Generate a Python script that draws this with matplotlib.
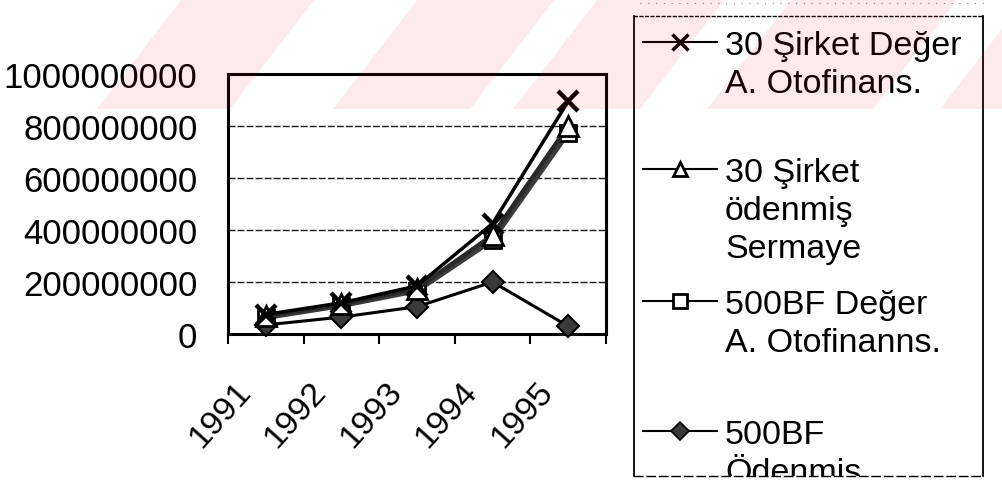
import numpy as np
import matplotlib
matplotlib.use("Agg")
import matplotlib.pyplot as plt
from matplotlib.patches import Polygon
from matplotlib.lines import Line2D
from matplotlib.transforms import ScaledTranslation

plt.rcParams['font.family'] = ['Liberation Sans', 'DejaVu Sans']

# yearly totals (TL)
years = ['1991', '1992', '1993', '1994', '1995']
sirket30_deger = [75e6, 120e6, 185e6, 425e6, 895e6]
sirket30_sermaye = [68e6, 115e6, 175e6, 380e6, 800e6]
bf500_deger = [62e6, 108e6, 165e6, 360e6, 772e6]
bf500_odenmis = [35e6, 65e6, 105e6, 200e6, 30e6]

series_labels = ['30 Şirket Değer\nA. Otofinans.',
                 '30 Şirket\nödenmiş\nSermaye',
                 '500BF Değer\nA. Otofinanns.',
                 '500BF\nÖdenmis.']
yticks = [0, 200e6, 400e6, 600e6, 800e6, 1000e6]

W, H = 1002, 485
fig = plt.figure(figsize=(W / 100, H / 100), dpi=100)
fig.patch.set_facecolor('white')

def fx(px):
    return px / W

def fy(py):
    return 1 - py / H

ax = fig.add_axes([fx(228), fy(335), fx(606) - fx(228), fy(75) - fy(335)])
x = np.arange(1, len(years) + 1)

ax.plot(x, bf500_odenmis, color='black', lw=2.2, marker='D', ms=11,
        mfc='#3a3a3a', mec='black', mew=1.5, clip_on=False, zorder=3)
ax.plot(x, bf500_deger, color='#3c3c3c', lw=3.2, marker='s', ms=12,
        mfc='white', mec='black', mew=2, clip_on=False, zorder=4)
ax.plot(x, sirket30_sermaye, color='#2a2a2a', lw=3.2, marker='^', ms=14,
        mfc='white', mec='black', mew=2, clip_on=False, zorder=5)
ax.plot(x, sirket30_deger, color='black', lw=2.5, marker='x', ms=15,
        mew=3.2, clip_on=False, zorder=6)

ax.set_xlim(0.5, len(years) + 0.5)
ax.set_ylim(0, 1e9)
ax.set_yticks(yticks, labels=[str(int(v)) for v in yticks])
ax.tick_params(axis='y', length=0, pad=22, labelsize=25)

# category boundaries carry the tick marks, the year names sit in between
ax.set_xticks(np.arange(0.5, len(years) + 1, 1), labels=[])
ax.tick_params(axis='x', which='major', direction='out', length=7, width=1.5)
ax.set_xticks(x, labels=years, minor=True)
ax.tick_params(axis='x', which='minor', length=0, pad=30, labelsize=24.5)
for lab in ax.get_xticklabels(minor=True):
    lab.set_rotation(48)
    lab.set_ha('right')
    lab.set_va('top')
    lab.set_rotation_mode('anchor')
    lab.set_transform(lab.get_transform() + ScaledTranslation(-0.32, 0, fig.dpi_scale_trans))

ax.yaxis.grid(True, color='#1a1a1a', lw=1, linestyle=(0, (5, 1.5)))
ax.set_axisbelow(True)
for side in ['left', 'right', 'top', 'bottom']:
    ax.spines[side].set_linewidth(2.2)
    ax.spines[side].set_color('black')

# legend panel
lx0, ly0, lx1, ly1 = 634, 17, 983, 477
lax = fig.add_axes([fx(lx0), fy(ly1), fx(lx1) - fx(lx0), fy(ly0) - fy(ly1)])
lax.set_xlim(0, lx1 - lx0)
lax.set_ylim(ly1 - ly0, 0)
lax.set_xticks([])
lax.set_yticks([])
lax.spines['left'].set_linewidth(1.3)
lax.spines['right'].set_linewidth(1.3)
lax.spines['top'].set_linestyle((0, (2, 2)))
lax.spines['top'].set_linewidth(1)
lax.spines['bottom'].set_linestyle((0, (6, 3)))
lax.spines['bottom'].set_linewidth(1)

key_styles = [
    dict(marker='x', ms=11, mew=2.5),
    dict(marker='^', ms=10, mfc='white', mec='black', mew=2),
    dict(marker='s', ms=10, mfc='white', mec='black', mew=2),
    dict(marker='D', ms=9, mfc='#3a3a3a', mec='black', mew=1.2),
]
entry_rows = [43, 170, 302, 432]
line_step = 38
for label, style, row in zip(series_labels, key_styles, entry_rows):
    yk = row - ly0
    lax.add_line(Line2D([9, 83], [yk, yk], lw=1.5, color='black'))
    lax.plot([46], [yk], linestyle='none', color='black', **style)
    for i, part in enumerate(label.split('\n')):
        lax.text(91, yk + 12 + i * line_step, part, fontsize=24.5, ha='left',
                 va='baseline', clip_on=True)

# faint scan dots above the legend
fig.add_artist(Line2D([fx(640), fx(990)], [fy(4), fy(4)], color='#888888',
                      lw=0.8, linestyle=(0, (1, 6))))

# pale red watermark stripes across the top band
stripe_bottoms = [(97, 230), (333, 470), (513, 640), (707, 873), (940, 1080)]
shear = 85
band_bottom = 110
for a, b in stripe_bottoms:
    pts = [(fx(a), fy(band_bottom)), (fx(b), fy(band_bottom)),
           (fx(b + shear), fy(0)), (fx(a + shear), fy(0))]
    fig.add_artist(Polygon(pts, closed=True, transform=fig.transFigure,
                           facecolor='#e8193c', alpha=0.09, edgecolor='none',
                           zorder=10))

fig.savefig('out.png', dpi=100)
